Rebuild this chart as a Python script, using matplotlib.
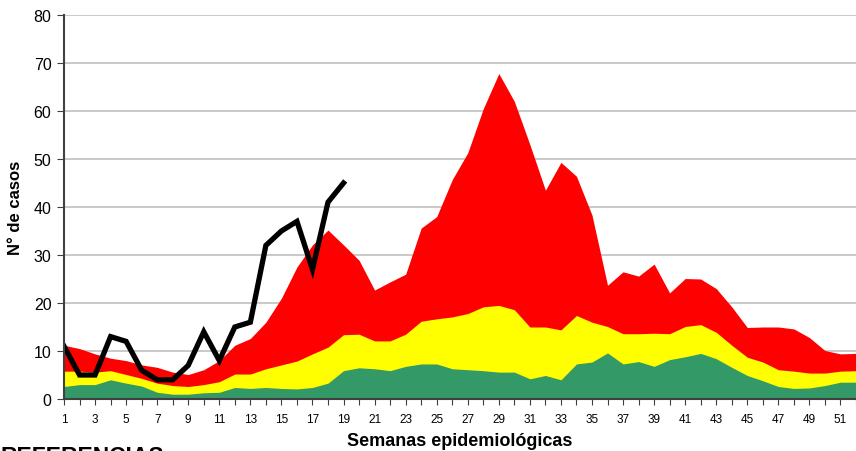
import numpy as np
import matplotlib.pyplot as plt

# Semanas epidemiológicas
semanas = np.arange(1, 53)

# Límites del corredor endémico (valores acumulados)
exito = [2.6, 3.0, 3.0, 4.0, 3.3, 2.7, 1.4, 1.0, 1.0, 1.3, 1.4, 2.4, 2.2, 2.4, 2.2, 2.1,
         2.4, 3.3, 5.9, 6.5, 6.3, 5.9, 6.8, 7.3, 7.3, 6.3, 6.1, 5.9, 5.6, 5.6, 4.2, 4.9,
         4.0, 7.3, 7.7, 9.6, 7.3, 7.8, 6.8, 8.2, 8.8, 9.5, 8.4, 6.6, 4.9, 3.8, 2.6, 2.2,
         2.3, 2.8, 3.5, 3.5]
seguridad = [5.8, 5.8, 5.6, 5.9, 5.1, 4.3, 3.3, 2.8, 2.6, 3.0, 3.6, 5.2, 5.2, 6.3, 7.1, 7.9,
             9.4, 10.8, 13.4, 13.5, 12.1, 12.1, 13.5, 16.2, 16.7, 17.1, 17.8, 19.2, 19.5, 18.6, 15.0, 15.0,
             14.4, 17.4, 16.0, 15.1, 13.6, 13.6, 13.7, 13.6, 15.1, 15.5, 13.9, 11.2, 8.7, 7.7, 6.1, 5.8,
             5.4, 5.4, 5.8, 5.9]
alarma = [11.2, 10.5, 9.4, 8.5, 8.0, 7.1, 6.6, 5.6, 5.1, 6.1, 8.0, 11.2, 12.6, 16.0, 21.0, 27.5,
          32.1, 35.2, 32.1, 28.9, 22.7, 24.4, 26.0, 35.6, 38.0, 45.7, 51.3, 60.5, 67.8, 62.0, 53.0, 43.5,
          49.3, 46.4, 38.3, 23.7, 26.5, 25.6, 28.1, 22.1, 25.1, 25.0, 23.0, 19.2, 14.9, 15.0, 15.0, 14.6,
          12.8, 10.1, 9.4, 9.5]

# Casos del año en curso
semanas_actual = np.arange(1, 20)
casos = [11, 5, 5, 13, 12, 6, 4, 4, 7, 14, 8, 15, 16, 32, 35, 37, 27, 41, 45]

fig = plt.figure(figsize=(8.56, 4.52), dpi=100)
ax = fig.add_axes([64 / 856, 52 / 452, 1 - 64 / 856, 384 / 452])

ax.fill_between(semanas, alarma, color='#ff0000', linewidth=0)
ax.fill_between(semanas, seguridad, color='#ffff00', linewidth=0)
ax.fill_between(semanas, exito, color='#339966', linewidth=0)
ax.plot(semanas_actual, casos, color='black', linewidth=3.8, solid_joinstyle='miter')

ax.set_xlim(1, 51.7)
ax.set_ylim(0, 80)
ax.set_yticks(np.arange(0, 81, 10))
ax.set_xticks(semanas)
ax.set_xticklabels([str(s) if s % 2 == 1 else '' for s in semanas],
                   fontsize=8.5, family='Liberation Sans')
ax.tick_params(axis='y', labelsize=11.5, length=5, direction='out', pad=4, color='#404040')
ax.tick_params(axis='x', length=4, direction='out', pad=6, color='#404040')
for lab in ax.get_yticklabels():
    lab.set_family('Liberation Sans')

ax.grid(axis='y', color='#c0c0c0', linewidth=1.2)
ax.set_axisbelow(True)
for s in ['top', 'right']:
    ax.spines[s].set_visible(False)
ax.spines['left'].set_linewidth(1.5)
ax.spines['bottom'].set_linewidth(1.5)
ax.spines['left'].set_color('#404040')
ax.spines['bottom'].set_color('#404040')

ax.set_ylabel('N° de casos', fontsize=12, fontweight='bold', family='Liberation Sans', labelpad=8)
ax.set_xlabel('Semanas epidemiológicas', fontsize=13, fontweight='bold',
              family='Liberation Sans', labelpad=5)

fig.text(0.0, 0.014, 'REFERENCIAS', fontsize=16.5, fontweight='bold',
         family='Liberation Sans', va='top', ha='left')

fig.savefig('out.png', dpi=100)
